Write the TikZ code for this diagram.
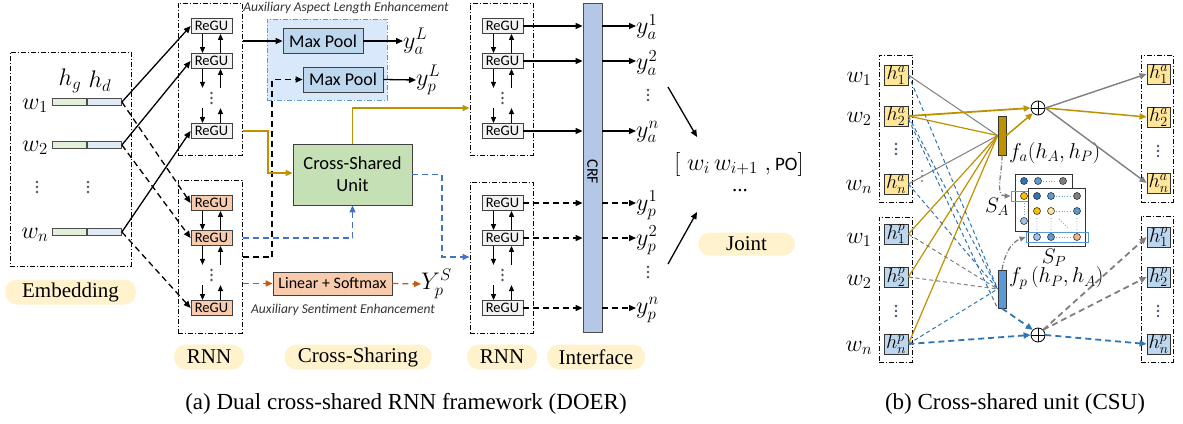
\RequirePackage{fix-cm}
\documentclass[tikz,border=0pt]{standalone}
\usepackage{fontspec}
\setmainfont{Liberation Serif}
\setsansfont{Carlito}
\usetikzlibrary{arrows.meta,calc}
\definecolor{goldc}{HTML}{BF9000}
\definecolor{goldf}{HTML}{FFE699}
\definecolor{bluef}{HTML}{BDD7EE}
\definecolor{bluel}{HTML}{4472C4}
\definecolor{blued}{HTML}{2E75B6}
\definecolor{orl}{HTML}{C55A11}
\definecolor{orf}{HTML}{F8CBAD}
\definecolor{csuf}{HTML}{C5E0B4}
\definecolor{mpf}{HTML}{BDD7EE}
\definecolor{regf}{HTML}{F2F2F2}
\definecolor{crff}{HTML}{B4C7E7}
\definecolor{pillf}{HTML}{FFF2CC}
\definecolor{regionf}{HTML}{DAE8FC}
\definecolor{regionb}{HTML}{5B9BD5}
\definecolor{dotc}{HTML}{44546A}
\definecolor{embg}{HTML}{E2F0D9}
\definecolor{embb}{HTML}{DEEBF7}
\definecolor{fpc}{HTML}{5B9BD5}
\definecolor{grl}{HTML}{7F7F7F}
\definecolor{cgold}{HTML}{FFC000}
\definecolor{clb}{HTML}{9DC3E6}
\definecolor{cor}{HTML}{F4B183}
\tikzset{
  dd/.style={draw=black, line width=1pt, dash pattern=on 5pt off 2pt on 1pt off 2pt},
  regu/.style={draw=black!75, fill=regf, line width=0.8pt, minimum width=41pt, minimum height=15pt, inner sep=0pt, font=\sffamily\fontsize{14.5}{14.5}\selectfont},
  regor/.style={regu, fill=orf},
  tip/.style={-{Triangle[length=7pt,width=6pt]}},
  arr/.style={line width=1.3pt, tip},
  sarr/.style={line width=1.2pt, -{Triangle[length=6pt,width=5pt]}},
  darr/.style={arr, dash pattern=on 6pt off 4pt},
  pill/.style={fill=pillf, rounded corners=12pt, minimum height=25pt, inner sep=0pt, font=\fontsize{21}{21}\selectfont},
  ml/.style={inner sep=0pt, font=\fontsize{24}{24}\selectfont},
  bar/.style={draw=black!70, line width=0.8pt, minimum width=34pt, minimum height=7pt, inner sep=0pt},
  sbox/.style={draw=black!75, line width=0.8pt, inner sep=0pt, font=\sffamily\fontsize{18}{18}\selectfont},
  auxl/.style={inner sep=0pt, text=black!80, font=\sffamily\itshape\fontsize{13.5}{13.5}\selectfont},
  hbox/.style={draw=black!80, line width=0.8pt, minimum width=24pt, minimum height=20pt, inner sep=0pt, font=\fontsize{20}{20}\selectfont},
  hlbl/.style={inner sep=0pt, font=\fontsize{23.5}{23.5}\selectfont},
  gline/.style={draw=grl, line width=1pt},
  goline/.style={draw=goldc, line width=1.2pt},
  bdash/.style={draw=blued, line width=1pt, dash pattern=on 4pt off 3pt},
  gdash/.style={draw=grl, line width=1pt, dash pattern=on 4pt off 3pt},
  btick/.style={draw=blued, line width=1.8pt, dash pattern=on 6pt off 4pt, -{Triangle[length=7pt,width=6pt]}},
  gtick/.style={draw=grl, line width=1.8pt, dash pattern=on 6pt off 4pt, -{Triangle[length=7pt,width=6pt]}},
  oplus/.style={draw=black, line width=0.8pt, circle, minimum size=14pt, inner sep=0pt,
    path picture={\draw[line width=0.8pt] (path picture bounding box.north)--(path picture bounding box.south) (path picture bounding box.west)--(path picture bounding box.east);}},
  mc/.style={draw=black!80, line width=0.6pt},
  vdots3/.pic={\fill[dotc] (0,-5) circle[radius=1.4pt] (0,0) circle[radius=1.4pt] (0,5) circle[radius=1.4pt];}
}
\newcommand\mkregucol[6]{%
  \node[#6] (#1a) at (#2,#3) {ReGU};
  \node[#6] (#1b) at (#2,#4) {ReGU};
  \node[#6] (#1c) at (#2,#5) {ReGU};
  \draw[sarr] ([xshift=-9pt]#1a.south) -- ([xshift=-9pt]#1b.north);
  \draw[sarr] ([xshift=9pt]#1b.north) -- ([xshift=9pt]#1a.south);
  \draw[sarr] ([xshift=-9pt]#1b.south) -- ++(0,19);
  \draw[sarr] ([xshift=9pt]#1b.south) ++(0,19) -- ([xshift=9pt]#1b.south);
  \draw[sarr] ([xshift=-9pt]#1c.north) ++(0,-15) -- ([xshift=-9pt]#1c.north);
  \draw[sarr] ([xshift=9pt]#1c.north) -- ++(0,-15);
  \pic at ($(#1b.south)!0.5!(#1c.north)+(0,2)$) {vdots3};
}
\begin{document}
\begin{tikzpicture}[x=1pt,y=-1pt]
\useasboundingbox (0,0) rectangle (1183,423);
% ---------------- (a) ----------------
% embedding
\node[dd, minimum width=121pt, minimum height=214pt, inner sep=0pt] (embbox) at (70.5,159) {};
\node[ml] (lhg) at (70,81) {$h_g$};
\node[ml] (lhd) at (100,81) {$h_d$};
\node[bar, fill=embg] (g1) at (69,102) {};
\node[bar, fill=embb] (b1) at (104.5,102) {};
\node[bar, fill=embg] (g2) at (69,145) {};
\node[bar, fill=embb] (b2) at (104.5,145) {};
\node[bar, fill=embg] (gn) at (69,232) {};
\node[bar, fill=embb] (bn) at (104.5,232) {};
\node[ml] (lw1) at (35,106) {$w_1$};
\node[ml] (lw2) at (35,148) {$w_2$};
\node[ml] (lwn) at (35,235) {$w_n$};
\pic at (37,187) {vdots3};
\pic at (88,187) {vdots3};
\node[pill, minimum width=131pt] (pemb) at (70.5,292) {Embedding};
% RNN columns
\node[dd, minimum width=64pt, minimum height=152pt] (c1top) at (210,79) {};
\node[dd, minimum width=64pt, minimum height=153pt] (c1bot) at (210,256.5) {};
\node[dd, minimum width=63pt, minimum height=152pt] (c2top) at (501.5,79) {};
\node[dd, minimum width=63pt, minimum height=151pt] (c2bot) at (501.5,257.5) {};
\mkregucol{ua}{211.5}{26}{61}{131}{regu}
\mkregucol{ub}{211.5}{203}{238}{308}{regor}
\mkregucol{va}{502.5}{26}{61}{131}{regu}
\mkregucol{vb}{502.5}{203}{238}{308}{regu}
% embedding -> RNN
\draw[arr] (b1.east) -- (uaa.west);
\draw[arr] (b2.east) -- (uab.west);
\draw[arr] (bn.east) -- (uac.west);
\draw[darr] (b1.east) -- (uba.west);
\draw[darr] (b2.east) -- (ubb.west);
\draw[darr] (bn.east) -- (ubc.west);
% aux aspect length region
\node[auxl] (auxA) at (346,8) {Auxiliary Aspect Length Enhancement};
\node[draw=regionb, fill=regionf, line width=1pt, dash pattern=on 5pt off 2pt on 1pt off 2pt, minimum width=120pt, minimum height=81pt] (mpreg) at (327,59.5) {};
\node[sbox, fill=mpf, minimum width=80pt, minimum height=25pt] (mp1) at (323,41) {Max Pool};
\node[sbox, fill=mpf, minimum width=80pt, minimum height=25pt] (mp2) at (343,79.5) {Max Pool};
\node[ml, anchor=west] (yaL) at (403,41) {$y_a^L$};
\node[ml, anchor=west] (ypL) at (416,80) {$y_p^L$};
\draw[arr] (c1top.east |- mp1) -- (mp1.west);
\draw[arr] (mp1.east) -- (yaL.west);
\draw[arr] (mp2.east) -- (ypL.west);
% cross shared unit
\node[sbox, fill=csuf, minimum width=119pt, minimum height=61pt, align=center, font=\sffamily\fontsize{18.5}{22}\selectfont] (csu) at (352.5,174.5) {Cross-Shared\\Unit};
\node[sbox, fill=orf, minimum width=119pt, minimum height=23pt, font=\sffamily\fontsize{16}{16}\selectfont] (lin) at (332.5,283.5) {Linear + Softmax};
\node[ml, anchor=west] (ypS) at (421,284) {$Y_p^S$};
\node[auxl] (auxS) at (343,310) {Auxiliary Sentiment Enhancement};
% black dashed to max pool 2
\coordinate (kk1) at (c1bot.east |- 0,257);
\coordinate (kk2) at (272,257);
\draw[darr] (kk1) -- (kk2) -- (kk2 |- mp2) -- (mp2.west);
% gold into CSU
\coordinate (gg1) at (c1top.east |- uac);
\draw[arr, draw=goldc, -{Triangle[length=7pt,width=6pt,fill=goldc]}] (gg1) -- (268,131) -- (268,173) -- (csu.west |- 0,173);
% gold out of CSU
\draw[arr, draw=goldc, -{Triangle[length=7pt,width=6pt,fill=goldc]}] (csu.north) -- (352.5,108) -- (c2top.west |- 0,108);
% blue dashed into CSU
\coordinate (bb1) at (c1bot.east |- ubb);
\draw[darr, draw=bluel, line width=1.5pt, -{Triangle[length=7pt,width=6pt,fill=bluel]}] (bb1) -- (352.5,238) -- (csu.south);
% blue dashed out of CSU
\draw[darr, draw=bluel, line width=1.5pt, -{Triangle[length=7pt,width=6pt,fill=bluel]}] (csu.east) -- (442,174.5) -- (442,257) -- (c2bot.west |- 0,257);
% orange dashed
\coordinate (oo1) at (c1bot.east |- lin);
\draw[darr, draw=orl, line width=1.3pt, -{Triangle[length=7pt,width=6pt,fill=orl]}] (oo1) -- (lin.west);
\draw[darr, draw=orl, line width=1.3pt, -{Triangle[length=7pt,width=6pt,fill=orl]}] (lin.east) -- (ypS.west);
% CRF
\node[draw=black!70, fill=crff, line width=0.8pt, minimum width=19pt, minimum height=329pt, inner sep=0pt] (crf) at (592.5,167.5) {};
\node[rotate=-90, inner sep=0pt, font=\sffamily\fontsize{16}{16}\selectfont] (crfl) at (592.5,172) {CRF};
\node[ml, anchor=west] (ya1) at (636,27) {$y_a^1$};
\node[ml, anchor=west] (ya2) at (636,63) {$y_a^2$};
\node[ml, anchor=west] (yan) at (636,132) {$y_a^n$};
\node[ml, anchor=west] (yp1) at (636,205) {$y_p^1$};
\node[ml, anchor=west] (yp2) at (636,240) {$y_p^2$};
\node[ml, anchor=west] (ypn) at (636,310) {$y_p^n$};
\pic at (648,95) {vdots3};
\pic at (648,272) {vdots3};
\foreach \r/\o in {vaa/ya1, vab/ya2, vac/yan}{
  \draw[arr] (\r.east) -- (crf.west |- \r);
  \draw[arr] (crf.east |- \r) -- (\o.west |- \r);
}
\foreach \r/\o in {vba/yp1, vbb/yp2, vbc/ypn}{
  \draw[darr] (\r.east) -- (crf.west |- \r);
  \draw[darr] (crf.east |- \r) -- (\o.west |- \r);
}
% joint
\node[inner sep=0pt, font=\fontsize{24}{24}\selectfont] (pair) at (739,164) {$\big[\;w_i\, w_{i+1}\;,$\,{\sffamily\fontsize{19}{19}\selectfont PO}$\big]$};
\node[inner sep=0pt, font=\fontsize{21}{21}\selectfont] (ell) at (740,191) {...};
\node[pill, minimum width=97pt, minimum height=23pt] (pjoint) at (746.5,244) {Joint};
\coordinate (j1s) at (668,87); \coordinate (j1e) at (697,137);
\coordinate (j2s) at (668,264); \coordinate (j2e) at (697,212);
\draw[arr] (j1s) -- (j1e);
\draw[arr] (j2s) -- (j2e);
% bottom labels
\node[pill, minimum width=70pt] (prnn1) at (209,357) {RNN};
\node[pill, minimum width=147pt] (pcs) at (358,357) {Cross-Sharing};
\node[pill, minimum width=70pt] (prnn2) at (502,357) {RNN};
\node[pill, minimum width=98pt] (pint) at (596,357) {Interface};
\node[inner sep=0pt, font=\fontsize{23}{23}\selectfont] (capa) at (406,404) {(a) Dual cross-shared RNN framework (DOER)};
\node[inner sep=0pt, font=\fontsize{23}{23}\selectfont] (capb) at (1015,404) {(b) Cross-shared unit (CSU)};
% ---------------- (b) ----------------
\node[dd, minimum width=33pt, minimum height=147pt] (lbt) at (895.5,128.5) {};
\node[dd, minimum width=33pt, minimum height=145pt] (lbb) at (895.5,289.5) {};
\node[dd, minimum width=32pt, minimum height=147pt] (rbt) at (1157,128.5) {};
\node[dd, minimum width=32pt, minimum height=146pt] (rbb) at (1157,289) {};
\node[hbox, fill=goldf] (ha1) at (896,75) {$h_1^a$};
\node[hbox, fill=goldf] (ha2) at (896,116) {$h_2^a$};
\node[hbox, fill=goldf] (han) at (896,184) {$h_n^a$};
\node[hbox, fill=bluef] (hp1) at (896,234) {$h_1^p$};
\node[hbox, fill=bluef] (hp2) at (896,277) {$h_2^p$};
\node[hbox, fill=bluef] (hpn) at (896,344) {$h_n^p$};
\node[hbox, fill=goldf, minimum width=23pt] (ra1) at (1158.5,74) {$h_1^a$};
\node[hbox, fill=goldf, minimum width=23pt] (ra2) at (1158.5,117) {$h_2^a$};
\node[hbox, fill=goldf, minimum width=23pt] (ran) at (1158.5,183) {$h_n^a$};
\node[hbox, fill=bluef, minimum width=23pt] (rp1) at (1158.5,237) {$h_1^p$};
\node[hbox, fill=bluef, minimum width=23pt] (rp2) at (1158.5,277) {$h_2^p$};
\node[hbox, fill=bluef, minimum width=23pt] (rpn) at (1158.5,344) {$h_n^p$};
\pic at (896,149) {vdots3};
\pic at (896,311) {vdots3};
\pic at (1158,151) {vdots3};
\pic at (1158,311) {vdots3};
\node[hlbl] (wa1) at (859,79) {$w_1$};
\node[hlbl] (wa2) at (859,119) {$w_2$};
\node[hlbl] (wan) at (859,187) {$w_n$};
\node[hlbl] (wp1) at (859,240) {$w_1$};
\node[hlbl] (wp2) at (859,282) {$w_2$};
\node[hlbl] (wpn) at (859,348) {$w_n$};
% f bars and oplus
\node[draw=black!80, fill=goldc, line width=0.8pt, minimum width=8pt, minimum height=39pt, inner sep=0pt] (fa) at (1002,135.5) {};
\node[draw=black!80, fill=fpc, line width=0.8pt, minimum width=8pt, minimum height=38pt, inner sep=0pt] (fp) at (1002,289) {};
\node[oplus] (opt) at (1038,108) {};
\node[oplus] (opb) at (1038,335) {};
\node[inner sep=0pt, anchor=west, font=\fontsize{21.5}{21.5}\selectfont] (lfa) at (1009,153) {$f_a(h_A,h_P)$};
\node[inner sep=0pt, anchor=west, font=\fontsize{21.5}{21.5}\selectfont] (lfp) at (1009,278) {$f_p\,(h_P,h_A)$};
% matrices
\node[draw=black!80, fill=white, line width=0.8pt, minimum width=57pt, minimum height=57pt, inner sep=0pt] (sa) at (1043.5,202.5) {};
\fill[mc, fill=blued] (1024,181) circle[radius=3.5pt];
\fill[mc, fill=fpc] (1038,181) circle[radius=3.5pt];
\draw[dotted, blued!70, line width=0.8pt] (1043,181) -- (1057,181);
\fill[mc, fill=grl] (1063,181) circle[radius=3.5pt];
\fill[mc, fill=cgold] (1024,196) circle[radius=3.5pt];
\draw[dotted, blued!70, line width=0.8pt] (1024,203) -- (1024,215);
\fill[mc, fill=clb] (1024,221) circle[radius=3.5pt];
\node[draw=goldc, line width=0.8pt, minimum width=18pt, minimum height=10pt, inner sep=0pt] (sah) at (1020,196) {};
\node[draw=black!80, fill=white, line width=0.8pt, minimum width=57pt, minimum height=58pt, inner sep=0pt] (sp) at (1056.5,217) {};
\fill[mc, fill=blued] (1037,196) circle[radius=3.5pt];
\fill[mc, fill=fpc] (1051,196) circle[radius=3.5pt];
\draw[dotted, blued!70, line width=0.8pt] (1056,196) -- (1071,196);
\fill[mc, fill=grl] (1077,196) circle[radius=3.5pt];
\fill[mc, fill=cgold] (1037,211) circle[radius=3.5pt];
\fill[mc, fill=goldf] (1051,211) circle[radius=3.5pt];
\draw[dotted, blued!70, line width=0.8pt] (1056,211) -- (1071,211);
\fill[mc, fill=fpc] (1077,211) circle[radius=3.5pt];
\draw[dotted, blued!70, line width=0.8pt] (1037,218) -- (1037,230) (1051,218) -- (1051,230) (1077,218) -- (1077,230) (1059,219) -- (1069,229);
\fill[mc, fill=clb] (1037,237) circle[radius=3.5pt];
\fill[mc, fill=fpc] (1051,237) circle[radius=3.5pt];
\draw[dotted, blued!70, line width=0.8pt] (1056,237) -- (1071,237);
\fill[mc, fill=cor] (1077,237) circle[radius=3.5pt];
\node[draw=regionb, line width=0.8pt, minimum width=62pt, minimum height=10pt, inner sep=0pt] (sph) at (1057,237) {};
\node[inner sep=0pt, font=\fontsize{21}{21}\selectfont] (lsa) at (997,207) {$S_A$};
\node[inner sep=0pt, font=\fontsize{21}{21}\selectfont] (lsp) at (1054,258) {$S_P$};
% connections into f_a
\draw[gline] (ha1.east) -- (fa.west);
\draw[goline] (ha2.east) -- (fa.west);
\draw[gline] (han.east) -- (fa.west);
\draw[goline] (hp1.east) -- (fa.west);
\draw[goline] (hp2.east) -- (fa.west);
\draw[goline] (hpn.east) -- (fa.west);
% connections into f_p
\draw[bdash] (ha1.east) -- (fp.west);
\draw[bdash] (ha2.east) -- (fp.west);
\draw[bdash] ([yshift=-3pt]ha2.east) -- (fp.south west);
\draw[bdash] (han.east) -- (fp.west);
\draw[gdash] (hp1.east) -- (fp.west);
\draw[gdash] (hp2.east) -- (fp.west);
\draw[bdash] (hpn.east) -- (fp.west);
\fill[grl] (922,171) circle[radius=1.1pt] (922,176) circle[radius=1.1pt] (922,181) circle[radius=1.1pt];
% top oplus
\draw[line width=1.8pt, draw=goldc, -{Triangle[length=7pt,width=6pt,fill=goldc]}] (ha2.east) -- (opt.west);
\draw[line width=1.5pt, draw=goldc, -{Triangle[length=7pt,width=6pt,fill=goldc]}] (fa.east) -- (opt.south west);
\draw[line width=1.4pt, draw=grl, -{Triangle[length=7pt,width=6pt,fill=grl]}] (opt.east) -- (ra1.west);
\draw[line width=1.5pt, draw=goldc, -{Triangle[length=7pt,width=6pt,fill=goldc]}] (opt.east) -- (ra2.west);
\draw[line width=1.4pt, draw=grl, -{Triangle[length=7pt,width=6pt,fill=grl]}] (opt.east) -- (ran.west);
% bottom oplus
\draw[btick] (hpn.east) -- (opb.west);
\draw[btick] (fp.south) -- (opb.north west);
\draw[btick] (opb.east) -- (rpn.west);
\draw[gtick] (opb.north east) -- (rp1.west);
\draw[gtick] (opb.north east) -- (rp2.west);
% dash-dot gray arrows
\draw[grl, line width=1.3pt, dash pattern=on 5pt off 2pt on 1pt off 2pt, -{Triangle[length=6pt,width=5pt]}] (fa.south) to[out=-88,in=180] (sah.west);
\draw[grl, line width=1.3pt, dash pattern=on 5pt off 2pt on 1pt off 2pt, -{Triangle[length=6pt,width=5pt]}] (fp.north) to[out=80,in=200] (sph.west);
\end{tikzpicture}
\end{document}
